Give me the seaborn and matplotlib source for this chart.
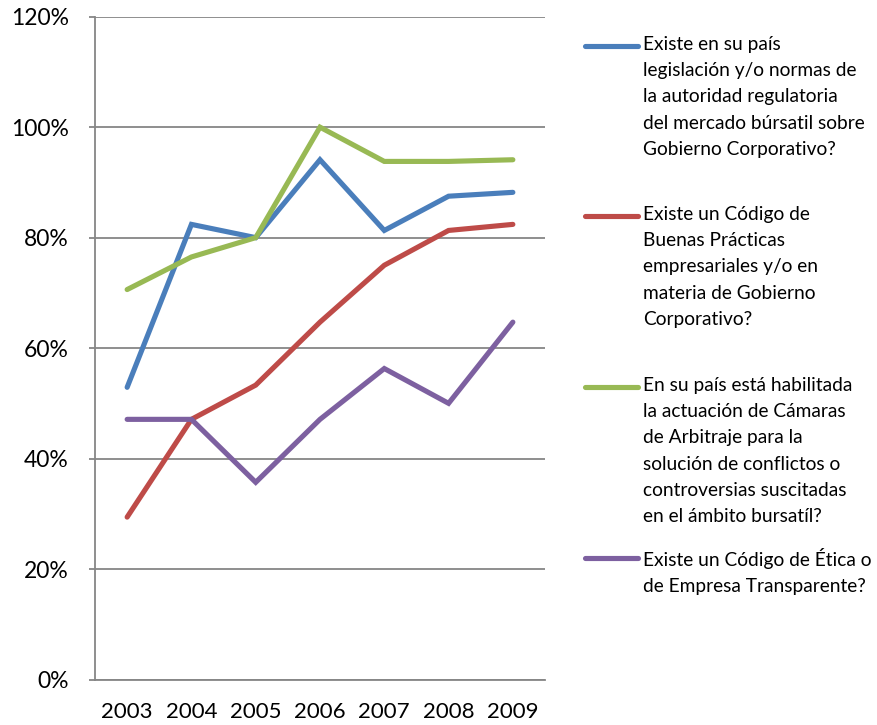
import matplotlib
matplotlib.use("Agg")
import matplotlib.pyplot as plt
from matplotlib.lines import Line2D
from matplotlib.ticker import FuncFormatter
import seaborn as sns
import pandas as pd

years = ["2003", "2004", "2005", "2006", "2007", "2008", "2009"]
legislacion = [52.9, 82.4, 80.0, 94.1, 81.3, 87.5, 88.2]
buenas_practicas = [29.4, 47.1, 53.3, 64.7, 75.0, 81.3, 82.4]
arbitraje = [70.6, 76.5, 80.0, 100.0, 93.8, 93.8, 94.1]
etica = [47.1, 47.1, 35.7, 47.1, 56.3, 50.0, 64.7]

labels = [
    "Existe en su país\nlegislación y/o normas de\nla autoridad regulatoria\ndel mercado búrsatil sobre\nGobierno Corporativo?",
    "Existe un Código de\nBuenas Prácticas\nempresariales y/o en\nmateria de Gobierno\nCorporativo?",
    "En su país está habilitada\nla actuación de Cámaras\nde Arbitraje para la\nsolución de conflictos o\ncontroversias suscitadas\nen el ámbito bursatíl?",
    "Existe un Código de Ética o\nde Empresa Transparente?",
]
series = [legislacion, buenas_practicas, arbitraje, etica]
colors = ["#4A7EBB", "#BE4B48", "#98B954", "#7D60A0"]

rows = []
for lab, vals in zip(labels, series):
    for i, (y, v) in enumerate(zip(years, vals)):
        rows.append({"idx": i, "year": y, "value": v, "serie": lab})
df = pd.DataFrame(rows)

sns.set_theme(style="white")
plt.rcParams["font.family"] = ["Lato", "DejaVu Sans"]

W, H = 877, 725
fig = plt.figure(figsize=(W / 100, H / 100), dpi=100)
ax = fig.add_axes([95 / W, 1 - 679.5 / H, (545 - 95) / W, (679.5 - 16.7) / H])

sns.lineplot(data=df, x="idx", y="value", hue="serie", hue_order=labels,
             palette=colors, linewidth=3.7, ax=ax, legend=False,
             solid_capstyle="round", solid_joinstyle="miter")

ax.set_xlim(-0.5, len(years) - 0.5)
ax.set_ylim(0, 120)
ax.set_yticks(range(0, 121, 20))
ax.yaxis.set_major_formatter(FuncFormatter(lambda v, p: f"{int(v)}%"))
ax.set_xticks(range(len(years)))
ax.set_xticklabels(years)
ax.set_xlabel("")
ax.set_ylabel("")
ax.grid(axis="y", color="#868686", linewidth=1.3)
ax.set_axisbelow(True)
for s in ["top", "right"]:
    ax.spines[s].set_visible(False)
for s in ["left", "bottom"]:
    ax.spines[s].set_color("#868686")
    ax.spines[s].set_linewidth(1.3)
ax.tick_params(axis="y", left=True, length=4, width=1.3, color="#868686",
               pad=15, labelsize=16.5, labelcolor="black")
ax.tick_params(axis="x", bottom=False, pad=10, labelsize=16, labelcolor="black")

# legend
leg_y = [46, 216, 387, 558]
for lab, col, yy in zip(labels, colors, leg_y):
    yf = 1 - yy / H
    fig.add_artist(Line2D([585 / W, 638 / W], [yf, yf], color=col, linewidth=3.7,
                          solid_capstyle="round", transform=fig.transFigure))
    fig.text(643 / W, 1 - (yy - 10) / H, lab, ha="left", va="top", fontsize=13.8,
             linespacing=1.66, color="black")

fig.savefig("out.png", dpi=100, facecolor="white")
